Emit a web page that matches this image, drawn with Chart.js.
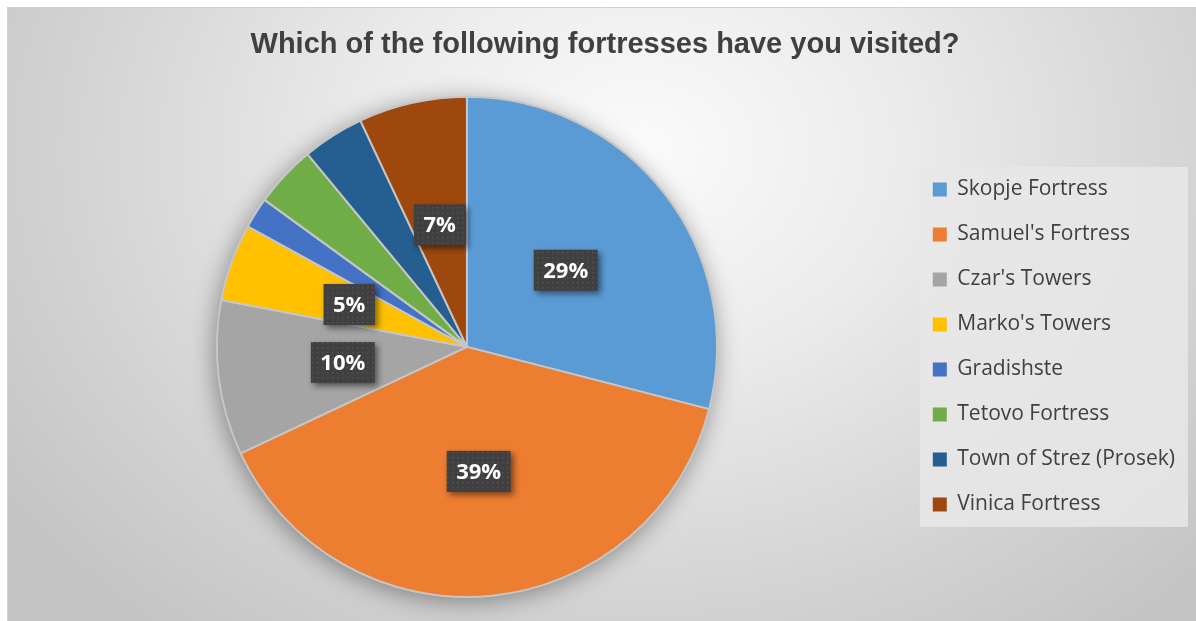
<!DOCTYPE html>
<html>
<head>
    <title>Fortresses visited</title>
    <script src="https://cdn.jsdelivr.net/npm/chart.js"></script>
    <style>
body{
    margin: 0;
    background-color: #ffffff;
}
#fortressChart{
    display: block;
}
    </style>
</head>
<body>
    <canvas id="fortressChart" width="1196" height="621"></canvas>

    <script>
        // survey answers, share of respondents (%)
        const fortresses = [
            "Skopje Fortress",
            "Samuel's Fortress",
            "Czar's Towers",
            "Marko's Towers",
            "Gradishste",
            "Tetovo Fortress",
            "Town of Strez (Prosek)",
            "Vinica Fortress"
        ];
        const visitedShare = [29, 39, 10, 5, 2, 4, 4, 7];
        const sliceColors = ['#5B9BD5', '#ED7D31', '#A5A5A5', '#FFC000', '#4472C4', '#70AD47', '#255E91', '#9E480E'];
        const chartTitle = 'Which of the following fortresses have you visited?';

        // small dotted tile used as the fill of the value boxes
        function makeDotPattern(ctx) {
            const tile = document.createElement('canvas');
            tile.width = 5;
            tile.height = 5;
            const t = tile.getContext('2d');
            t.fillStyle = '#404040';
            t.fillRect(0, 0, 5, 5);
            t.fillStyle = '#525252';
            t.fillRect(2, 2, 1.5, 1.5);
            return ctx.createPattern(tile, 'repeat');
        }

        // grey radial backdrop plus the panel behind the legend
        const backdrop = {
            id: 'backdrop',
            beforeDraw(chart) {
                const ctx = chart.ctx;
                const w = chart.width, h = chart.height;
                ctx.save();
                ctx.fillStyle = '#ffffff';
                ctx.fillRect(0, 0, w, h);

                ctx.save();
                ctx.beginPath();
                ctx.rect(7, 7, w - 7, h - 7);
                ctx.clip();
                ctx.translate(640, 150);
                ctx.scale(1.25, 1);
                const g = ctx.createRadialGradient(0, 0, 0, 0, 0, 620);
                g.addColorStop(0, '#fbfbfb');
                g.addColorStop(0.35, '#ebebeb');
                g.addColorStop(0.75, '#d2d2d2');
                g.addColorStop(1, '#c4c4c4');
                ctx.fillStyle = g;
                ctx.fillRect(-700, -300, 1400, 900);
                ctx.restore();

                ctx.strokeStyle = '#d0d0d0';
                ctx.lineWidth = 1;
                ctx.beginPath();
                ctx.moveTo(7.5, h);
                ctx.lineTo(7.5, 7.5);
                ctx.lineTo(w, 7.5);
                ctx.stroke();

                const boxes = chart.legend.legendHitBoxes;
                if (boxes && boxes.length) {
                    const first = boxes[0], last = boxes[boxes.length - 1];
                    const widest = Math.max(...boxes.map(b => b.left + b.width));
                    const x0 = first.left - 13;
                    const y0 = first.top - 12;
                    ctx.fillStyle = 'rgba(232,232,232,0.85)';
                    ctx.fillRect(x0, y0, widest + 13 - x0, last.top + last.height + 12 - y0);
                }
                ctx.restore();
            }
        };

        // soft drop shadow under the whole pie
        const pieShadow = {
            id: 'pieShadow',
            beforeDatasetsDraw(chart) {
                const arc = chart.getDatasetMeta(0).data[0];
                if (!arc) return;
                const ctx = chart.ctx;
                ctx.save();
                ctx.shadowColor = 'rgba(0,0,0,0.4)';
                ctx.shadowBlur = 24;
                ctx.shadowOffsetX = -2;
                ctx.shadowOffsetY = 4;
                ctx.fillStyle = '#c8c8c8';
                ctx.beginPath();
                ctx.arc(arc.x, arc.y, arc.outerRadius, 0, Math.PI * 2);
                ctx.fill();
                ctx.restore();
            }
        };

        // dark percentage boxes halfway out on each big slice
        const valueBoxes = {
            id: 'valueBoxes',
            afterDatasetsDraw(chart) {
                const ctx = chart.ctx;
                const data = chart.data.datasets[0].data;
                const total = data.reduce((a, b) => a + b, 0);
                const pattern = makeDotPattern(ctx);
                ctx.save();
                ctx.font = 'bold 22px "Open Sans"';
                ctx.textAlign = 'center';
                ctx.textBaseline = 'middle';
                chart.getDatasetMeta(0).data.forEach((arc, i) => {
                    if (data[i] < 5) return;
                    const text = Math.round(data[i] / total * 100) + '%';
                    const pos = arc.tooltipPosition();
                    const bw = ctx.measureText(text).width + 19;
                    const bh = 41;
                    ctx.save();
                    ctx.shadowColor = 'rgba(0,0,0,0.5)';
                    ctx.shadowBlur = 6;
                    ctx.shadowOffsetX = 3;
                    ctx.shadowOffsetY = 3;
                    ctx.fillStyle = pattern;
                    ctx.fillRect(pos.x - bw / 2, pos.y - bh / 2, bw, bh);
                    ctx.restore();
                    ctx.fillStyle = '#ffffff';
                    ctx.fillText(text, pos.x, pos.y + 1);
                });
                ctx.restore();
            }
        };

        // legend swatches without the slice outline
        const pieLabels = Chart.overrides.pie.plugins.legend.labels.generateLabels;

        new Chart(document.getElementById('fortressChart'), {
            type: 'pie',
            data: {
                labels: fortresses,
                datasets: [{
                    data: visitedShare,
                    backgroundColor: sliceColors,
                    borderColor: '#c6c6c6',
                    borderWidth: 2
                }]
            },
            options: {
                responsive: false,
                animation: false,
                layout: {
                    padding: {left: 25, right: 11, top: 7, bottom: 23}
                },
                plugins: {
                    title: {
                        display: true,
                        text: chartTitle,
                        color: '#404040',
                        font: {family: '"Liberation Sans", Arial, sans-serif', size: 29, weight: 'bold'},
                        padding: {top: 21, bottom: 33}
                    },
                    legend: {
                        position: 'right',
                        fullSize: false,
                        labels: {
                            boxWidth: 14,
                            boxHeight: 14,
                            padding: 24,
                            color: '#404040',
                            font: {family: '"Open Sans"', size: 21},
                            generateLabels(chart) {
                                return pieLabels(chart).map(item => Object.assign(item, {lineWidth: 0}));
                            }
                        }
                    },
                    tooltip: {enabled: false}
                }
            },
            plugins: [backdrop, pieShadow, valueBoxes]
        });
    </script>
</body>
</html>
